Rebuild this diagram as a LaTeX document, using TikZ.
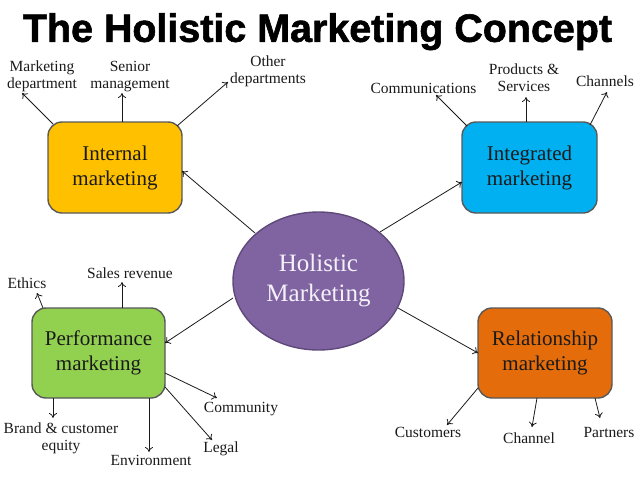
\documentclass[tikz,border=0pt]{standalone}
\usepackage{fontspec}
\setmainfont{Liberation Serif}
\setsansfont{Liberation Sans}
\newfontfamily\titlefont{Liberation Sans Bold}[FakeBold=1.5]
\usetikzlibrary{arrows.meta,calc,shapes.geometric}
\definecolor{cInt}{HTML}{FFC000}
\definecolor{cIng}{HTML}{00B0F0}
\definecolor{cPer}{HTML}{92D050}
\definecolor{cRel}{HTML}{E46C0A}
\definecolor{cHol}{HTML}{8064A2}
\definecolor{cHolB}{HTML}{5F497A}
\definecolor{cBord}{HTML}{595959}
\definecolor{cTxt}{HTML}{1A1A1A}
\definecolor{cHolT}{HTML}{F4F0F8}
\tikzset{
  mbox/.style={draw=cBord, line width=1.4pt, rounded corners=14pt, inner sep=0pt,
    align=center, text=cTxt, font=\fontsize{21}{25}\selectfont},
  lbl/.style={inner sep=0pt, align=center, text=cTxt, anchor=base,
    font=\fontsize{15.5}{17}\selectfont},
  arr/.style={draw=cTxt, line width=0.8pt, -{To[length=5pt,width=8pt]}}
}
\begin{document}
\begin{tikzpicture}[x=1pt,y=-1pt]
\useasboundingbox (0,0) rectangle (638,479);
% title
\node[inner sep=0pt, anchor=north] (title) at (317.5,13) {\resizebox*{589pt}{37pt}{\titlefont The Holistic Marketing Concept}};
% main boxes
\node[mbox, fill=cInt, minimum width=134pt, minimum height=91pt] (im) at (115,167.5) {Internal\\marketing};
\node[mbox, fill=cIng, minimum width=135pt, minimum height=91pt] (ig) at (529.5,167.5) {Integrated\\marketing};
\node[mbox, fill=cPer, minimum width=133pt, minimum height=90pt] (pm) at (98.5,353) {Performance\\marketing};
\node[mbox, fill=cRel, minimum width=134pt, minimum height=90pt] (rm) at (545,353) {Relationship\\marketing};
\node[ellipse, draw=cHolB, line width=1.4pt, fill=cHol, minimum width=171pt, minimum height=138pt,
  inner sep=0pt, align=center, text=cHolT, font=\fontsize{25}{30}\selectfont] (hm) at (318.5,281) {Holistic\\Marketing};
% labels (base = baseline of last line)
\node[lbl] (md) at (42,88) {Marketing\\department};
\node[lbl] (sm) at (130,88) {Senior\\management};
\node[lbl] (od) at (268,83) {Other\\departments};
\node[lbl] (cm) at (423.5,93) {Communications};
\node[lbl] (ps) at (524,91) {Products \&\\Services};
\node[lbl] (ch) at (605,86) {Channels};
\node[lbl] (eth) at (27,288) {Ethics};
\node[lbl] (sr) at (130,278) {Sales revenue};
\node[lbl] (bce) at (61,450) {Brand \& customer\\equity};
\node[lbl] (env) at (151,465) {Environment};
\node[lbl] (com) at (241,412) {Community};
\node[lbl] (leg) at (221,452) {Legal};
\node[lbl] (cu) at (428,437) {Customers};
\node[lbl] (chn) at (529,443) {Channel};
\node[lbl] (pa) at (609,437) {Partners};
% arrows
\draw[arr] ($(im)+(-62,-43.5)$) -- ($(md.base)+(-20,5)$);
\draw[arr] ($(im)+(7,-45.5)$) -- ($(sm.base)+(-8,5)$);
\draw[arr] ($(im)+(62,-41.5)$) -- ($(od.base)+(-40,-1)$);
\draw[arr] ($(hm)+(-63.5,-48)$) -- ($(im)+(67,3.5)$);
\draw[arr] ($(ig)+(-62.5,-41.5)$) -- ($(cm.base)+(12.5,2)$);
\draw[arr] ($(ig)+(-3.5,-45.5)$) -- ($(ps.base)+(2,6)$);
\draw[arr] ($(ig)+(60.5,-42.5)$) -- ($(ch.base)+(2,6)$);
\draw[arr] ($(hm)+(61.5,-49)$) -- ($(ig)+(-67.5,14.5)$);
\draw[arr] ($(pm)+(-55.5,-45)$) -- ($(eth.base)+(10,5)$);
\draw[arr] ($(pm)+(23.5,-45)$) -- ($(sr.base)+(-8,4)$);
\draw[arr] ($(hm)+(-85.5,17)$) -- ($(pm)+(66.5,-10)$);
\draw[arr] ($(pm)+(-45.5,45)$) -- ($(bce.base)+(-8,-32)$);
\draw[arr] ($(pm)+(50.5,45)$) -- ($(env.base)+(-2,-13)$);
\draw[arr] ($(pm)+(66.5,20)$) -- ($(com.base)+(-24,-14)$);
\draw[arr] ($(pm)+(66.5,34)$) -- ($(leg.base)+(-9,-12)$);
\draw[arr] ($(hm)+(79.5,27)$) -- ($(rm)+(-67,0)$);
\draw[arr] ($(rm)+(-67,35)$) -- ($(cu.base)+(19,-12)$);
\draw[arr] ($(rm)+(-8,45)$) -- ($(chn.base)+(3,-16)$);
\draw[arr] ($(rm)+(50,45)$) -- ($(pa.base)+(-9,-19)$);
\end{tikzpicture}
\end{document}
